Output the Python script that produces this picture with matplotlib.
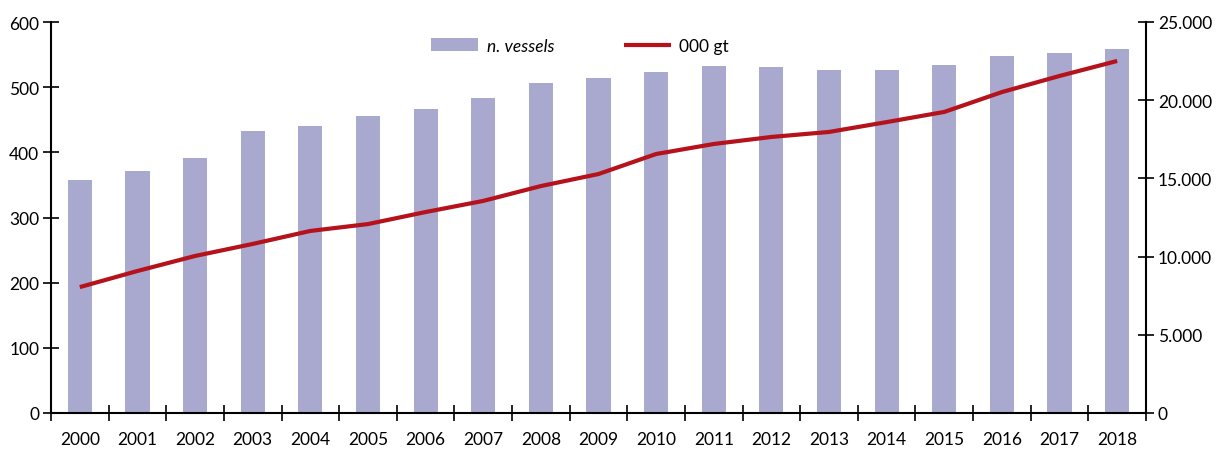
import matplotlib
matplotlib.use("Agg")
import matplotlib.pyplot as plt
from matplotlib.ticker import FuncFormatter, FixedLocator

years = ["2000", "2001", "2002", "2003", "2004", "2005", "2006", "2007", "2008", "2009",
         "2010", "2011", "2012", "2013", "2014", "2015", "2016", "2017", "2018"]
vessels = [357, 372, 392, 432, 441, 455, 466, 484, 506, 514,
           524, 533, 531, 526, 526, 534, 548, 552, 558]
gt_thousand = [8050, 9080, 10040, 10810, 11640, 12080, 12850, 13560, 14510, 15280,
               16560, 17200, 17650, 17970, 18600, 19250, 20520, 21550, 22510]

plt.rcParams['font.family'] = ['Lato', 'DejaVu Sans']

BAR_COLOR = "#A9A8CE"
LINE_COLOR = "#B5121B"
FS = 12.5

fig = plt.figure(figsize=(12.2, 4.52), dpi=100)
ax = fig.add_axes([51/1220, 38/452, (1146-51)/1220, (414-23)/452])
ax2 = ax.twinx()

x = list(range(len(years)))
bars = ax.bar(x, vessels, width=0.42, color=BAR_COLOR, label="n. vessels", zorder=2)
line, = ax2.plot(x, gt_thousand, color=LINE_COLOR, lw=3.0, label="000 gt",
                 solid_capstyle='butt', solid_joinstyle='round')

ax.set_xlim(-0.5, len(years) - 0.5)
ax.set_ylim(0, 600)
ax2.set_ylim(0, 25000)

ax.set_yticks([0, 100, 200, 300, 400, 500, 600])
ax2.set_yticks([0, 5000, 10000, 15000, 20000, 25000])
ax2.yaxis.set_major_formatter(FuncFormatter(lambda v, p: f"{int(v):,}".replace(",", ".")))

# x ticks at category boundaries, labels at centers
ax.xaxis.set_major_locator(FixedLocator([i - 0.5 for i in range(len(years) + 1)]))
ax.xaxis.set_major_formatter(FuncFormatter(lambda v, p: ""))
ax.xaxis.set_minor_locator(FixedLocator(x))
ax.set_xticklabels(years, minor=True)
ax.tick_params(axis='x', which='minor', length=0, pad=13, labelsize=FS)
ax.tick_params(axis='x', which='major', direction='inout', length=12, width=1.2)

ax.tick_params(axis='y', direction='inout', length=11, width=1.2, labelsize=FS, pad=3)
ax2.tick_params(axis='y', direction='inout', length=11, width=1.2, labelsize=FS, pad=3)

for a in (ax, ax2):
    a.spines['top'].set_visible(False)
ax.spines['right'].set_visible(False)
ax2.spines['left'].set_visible(False)
ax2.spines['bottom'].set_visible(False)
for s in ('left', 'bottom'):
    ax.spines[s].set_linewidth(1.5)
ax2.spines['right'].set_linewidth(1.5)

leg = ax2.legend([bars, line], ["n. vessels", "000 gt"], ncol=2, frameon=False,
                 loc='upper left', bbox_to_anchor=(0.333, 1.0),
                 handlelength=2.7, handleheight=0.7, handletextpad=0.5,
                 columnspacing=4.0, fontsize=FS)
leg.get_texts()[0].set_style('italic')

fig.savefig("out.png", dpi=100)
